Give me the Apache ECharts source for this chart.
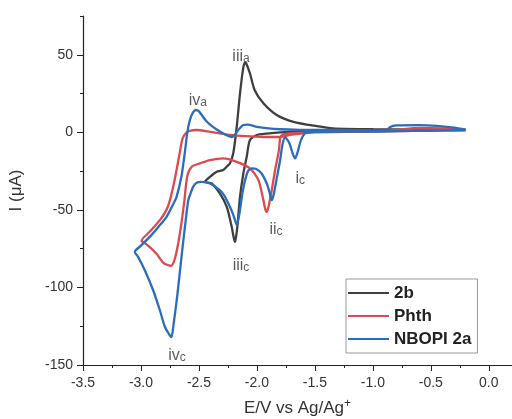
<!DOCTYPE html>
<html>
<head>
<meta charset="utf-8">
<script src="https://cdn.jsdelivr.net/npm/echarts@6/dist/echarts.min.js"></script>
<style>html,body{margin:0;padding:0;background:#fff}#c{width:512px;height:419px}</style>
</head>
<body>
<div id="c"></div>
<script>
// ---- data (E in V vs Ag/Ag+, I in µA), scan order ----
const E_2b = [-0.20,-0.60,-1.00,-1.50,-1.80,-1.95,-2.001,-2.06,-2.088,-2.117,-2.146,-2.169,-2.18,-2.189,-2.20,-2.217,-2.26,-2.32,-2.39,-2.448,
  -2.405,-2.347,-2.29,-2.247,-2.232,-2.204,-2.174,-2.146,-2.117,-2.103,-2.094,-2.06,-2.02,-1.944,-1.83,-1.685,-1.483,-1.345,-1.00,-0.50,-0.20];
const I_2b = [1.5,1.5,1.0,0.5,0,-1.1,-1.7,-5,-15.7,-26.5,-41.6,-61,-67.4,-70.6,-68,-61,-48,-39.4,-33,-31.9,
  -28.7,-25.4,-24.3,-21.1,-20,-13.5,3.6,25,42,45,44.7,38,27.3,18.7,11.2,6.8,4,2.6,2,1.8,1.5];

const E_Phth = [-0.20,-0.50,-1.00,-1.50,-1.70,-1.78,-1.80,-1.81,-1.843,-1.872,-1.90,-1.915,-1.93,-1.944,-1.987,-2.06,-2.174,-2.29,-2.405,-2.49,-2.56,-2.60,-2.627,-2.65,-2.68,-2.71,-2.74,-2.77,-2.809,-2.866,-2.924,-2.967,-2.995,
  -2.924,-2.837,-2.78,-2.75,-2.707,-2.664,-2.641,-2.606,-2.58,-2.52,-2.40,-2.32,-2.23,-2.10,-1.95,-1.80,-1.70,-1.50,-1.00,-0.80,-0.60,-0.40,-0.20];
const I_Phth = [1.5,1.2,0.5,0,-0.5,-1.5,-4,-11.5,-24.3,-37.2,-48,-51.3,-49,-43.7,-30.8,-23.2,-19,-16.8,-17.9,-20,-22,-28,-45,-58,-72,-82,-86,-85.5,-84,-78.3,-74,-71.4,-70,
  -64,-56.6,-50,-43.7,-29.7,-12.5,-3.9,0,1,1.5,0.3,-0.6,-1.7,-2.5,-3,-3,-1.5,0,0.5,1.5,2.8,2.5,1.5];

const E_NBOPI = [-0.20,-0.50,-0.80,-1.00,-1.30,-1.50,-1.58,-1.62,-1.65,-1.67,-1.69,-1.72,-1.757,-1.78,-1.80,-1.83,-1.855,-1.872,-1.89,-1.915,-1.96,-2.01,-2.045,-2.08,-2.12,-2.15,-2.174,-2.20,-2.233,-2.28,-2.32,-2.405,-2.477,-2.52,-2.549,-2.575,-2.592,-2.621,-2.65,-2.688,-2.722,-2.736,-2.75,-2.793,-2.837,-2.895,-2.967,-3.025,-3.053,
  -3.00,-2.924,-2.85,-2.779,-2.72,-2.693,-2.65,-2.62,-2.60,-2.578,-2.55,-2.526,-2.50,-2.433,-2.35,-2.27,-2.217,-2.19,-2.15,-2.117,-2.08,-2.00,-1.90,-1.80,-1.60,-1.30,-1.00,-0.88,-0.85,-0.80,-0.60,-0.45,-0.30,-0.20];
const I_NBOPI = [1.5,1.0,0.8,0.5,0.5,0.3,-0.5,-5,-13,-16.8,-14,-7,-3.2,-8,-18,-30,-40,-43.7,-39,-33,-26.5,-23.5,-23.2,-25.4,-37,-52,-59.8,-54,-48,-41,-37.2,-33,-31.9,-32.5,-35,-40,-43.7,-61,-80,-106,-125.5,-132,-131,-125.5,-114.7,-101.8,-88.9,-80.3,-77.1,
  -73,-67.4,-61,-54.5,-46,-41.6,-28,-12,0,8,13,14.4,13.5,7,2,-1.5,-3,-1.5,2.5,4.7,5,3.5,2.5,2,1.5,1.5,1.3,1.5,3.5,4.5,4.7,4.2,3.0,1.8];

const peakMain = ['iii','iv','i','ii','iii','iv'];
const peakSub  = ['a','a','c','c','c','c'];
const peakE    = [-2.137,-2.509,-1.627,-1.835,-2.137,-2.69];
const peakI    = [48.6,20.2,-29.6,-63,-85.7,-143.8];

const xTicks = [-3.5,-3.0,-2.5,-2.0,-1.5,-1.0,-0.5,0.0];
const xMinor = [-3.25,-2.75,-2.25,-1.75,-1.25,-0.75,-0.25];
const yTicks = [-150,-100,-50,0,50];
const yMinor = [-125,-75,-25,25,75];

const seriesNames = ['2b','Phth','NBOPI 2a'];
const colors = ['#3f3f3f','#dc4a50','#2b6dbb'];

const zip = (a,b) => a.map((v,i)=>[v,b[i]]);
const seriesData = [zip(E_2b,I_2b), zip(E_Phth,I_Phth), zip(E_NBOPI,I_NBOPI)];

const FONT = '"Liberation Sans", Arial, sans-serif';
const chart = echarts.init(document.getElementById('c'), null, {renderer:'canvas'});

chart.setOption({
  animation:false,
  backgroundColor:'#fff',
  grid:{left:83, right:0, top:16, bottom:54, containLabel:false, outerBoundsMode:'none'},
  legend:{
    data:seriesNames, orient:'vertical', left:346, top:279,
    icon:'rect', itemWidth:41, itemHeight:2, itemGap:5,
    padding:[5,6,5,2], borderColor:'#999', borderWidth:1,
    textStyle:{fontFamily:FONT, fontWeight:'bold', fontSize:17, color:'#222', lineHeight:18}
  },
  xAxis:[{
    type:'value', min:-3.5, max:0.2, position:'bottom',
    axisLine:{show:true, onZero:false, lineStyle:{color:'#222', width:1.2}},
    splitLine:{show:false},
    axisTick:{show:true, length:6, customValues:xTicks, lineStyle:{color:'#222'}},
    axisLabel:{customValues:xTicks, margin:11, fontFamily:FONT, fontSize:14, color:'#333',
      formatter:v=>v.toFixed(1)},
    name:'{a|E/V vs Ag/Ag}{b|+}', nameLocation:'middle', nameGap:33,
    nameTextStyle:{rich:{a:{fontFamily:FONT, fontSize:17, color:'#333'}, b:{fontFamily:FONT, fontSize:12, color:'#333', verticalAlign:'top', padding:[0,0,8,0]}}}
  },{
    type:'value', min:-3.5, max:0.2, position:'bottom', gridIndex:0,
    axisLine:{show:false, onZero:false}, splitLine:{show:false}, axisLabel:{show:false},
    axisTick:{show:true, length:3, customValues:xMinor, lineStyle:{color:'#222'}}
  }],
  yAxis:[{
    type:'value', min:-150, max:75, position:'left',
    axisLine:{show:true, onZero:false, lineStyle:{color:'#222', width:1.2}},
    splitLine:{show:false},
    axisTick:{show:true, length:6, customValues:yTicks, lineStyle:{color:'#222'}},
    axisLabel:{customValues:yTicks, margin:10, fontFamily:FONT, fontSize:14, color:'#333'},
    name:'I (\u03bcA)', nameLocation:'middle', nameGap:58,
    nameTextStyle:{fontFamily:FONT, fontSize:17, color:'#333'}
  },{
    type:'value', min:-150, max:75, position:'left', gridIndex:0,
    axisLine:{show:false, onZero:false}, splitLine:{show:false}, axisLabel:{show:false},
    axisTick:{show:true, length:3, customValues:yMinor, lineStyle:{color:'#222'}}
  }],
  series:[
    ...seriesNames.map((n,i)=>({
      name:n, type:'line', data:seriesData[i], xAxisIndex:0, yAxisIndex:0,
      symbol:'none', smooth:0.25, color:colors[i],
      lineStyle:{width:2.3, color:colors[i]}, z:2+i
    })),
    {
      name:'labels', type:'scatter', xAxisIndex:0, yAxisIndex:0, symbolSize:0, z:10,
      data:zip(peakE,peakI), silent:true,
      label:{show:true, position:'inside',
        formatter:p=>'{m|'+peakMain[p.dataIndex]+'}{s|'+peakSub[p.dataIndex]+'}',
        rich:{m:{fontFamily:FONT, fontSize:16, color:'#333', verticalAlign:'bottom'},
              s:{fontFamily:FONT, fontSize:12, color:'#333', verticalAlign:'bottom'}}}
    }
  ]
});
</script>
</body>
</html>
